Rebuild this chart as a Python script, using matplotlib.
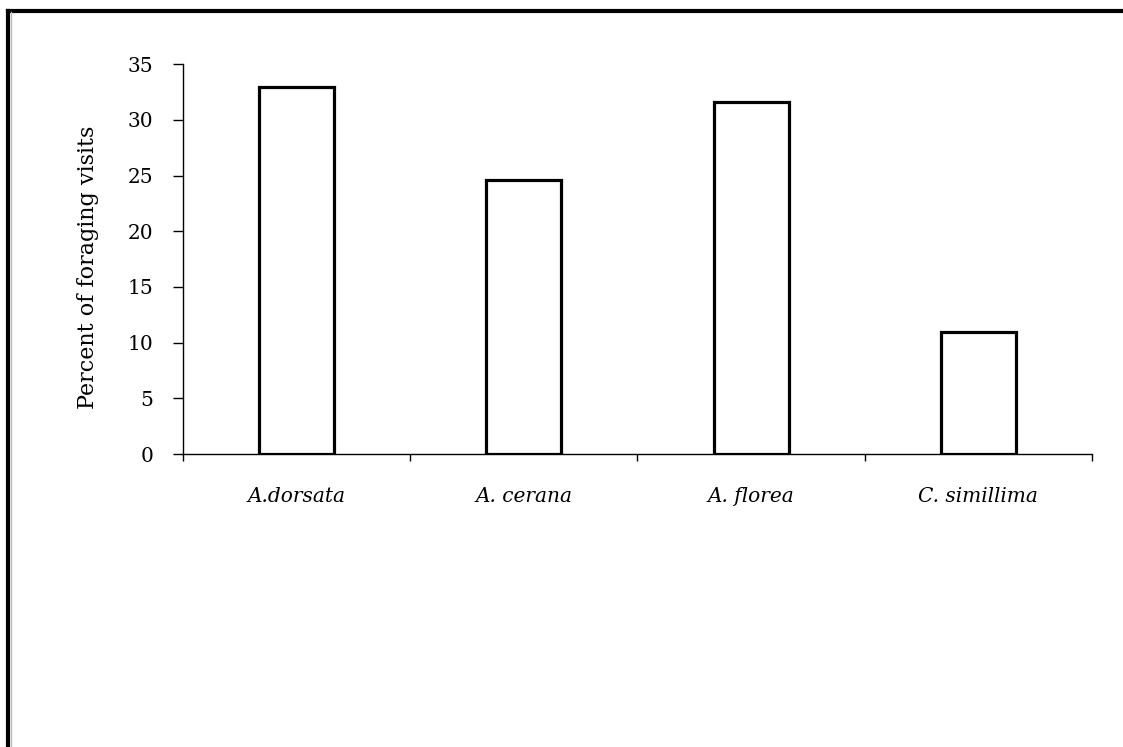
import matplotlib
matplotlib.use("Agg")
import matplotlib.pyplot as plt
from matplotlib.lines import Line2D
import numpy as np

categories = ["A.dorsata", "A. cerana", "A. florea", "C. simillima"]
values = [33.0, 24.6, 31.6, 11.0]
y_ticks = [0, 5, 10, 15, 20, 25, 30, 35]
y_label = "Percent of foraging visits"

plt.rcParams['font.family'] = ['DejaVu Serif']

fig = plt.figure(figsize=(11.23, 7.47), dpi=100)
ax = fig.add_axes([182.7 / 1123, (747 - 454) / 747, (1092 - 182.7) / 1123, (454 - 64.3) / 747])

x = np.arange(len(categories))
ax.bar(x, values, width=0.33, facecolor='white', edgecolor='black', linewidth=2.3, zorder=3)

ax.set_xlim(-0.5, len(categories) - 0.5)
ax.set_ylim(0, 35)
ax.set_yticks(y_ticks)
ax.set_yticklabels([str(t) for t in y_ticks], fontsize=14.5)
ax.tick_params(axis='y', direction='out', length=7, width=1, pad=14)

ax.set_xticks(np.arange(-0.5, len(categories)))
ax.set_xticklabels([])
ax.tick_params(axis='x', which='major', direction='out', length=5, width=1)
ax.set_xticks(x, minor=True)
ax.set_xticklabels(categories, minor=True, fontsize=14.5, style='italic')
ax.tick_params(axis='x', which='minor', length=0, pad=24)

for s in ['top', 'right']:
    ax.spines[s].set_visible(False)
for s in ['left', 'bottom']:
    ax.spines[s].set_linewidth(1)

fig.text(88 / 1123, (747 - 267) / 747, y_label, rotation=90, fontsize=16,
         ha='center', va='center')

# page border (top and left only, as cropped)
fig.add_artist(Line2D([7.5 / 1123, 1.0], [1 - 10.5 / 747, 1 - 10.5 / 747],
                      transform=fig.transFigure, color='black', linewidth=3))
fig.add_artist(Line2D([7.5 / 1123, 7.5 / 1123], [0, 1 - 10.5 / 747],
                      transform=fig.transFigure, color='black', linewidth=3))
fig.add_artist(Line2D([10.5 / 1123, 10.5 / 1123], [0, 1 - 12 / 747],
                      transform=fig.transFigure, color='#bbbbbb', linewidth=1))

fig.savefig("out.png", dpi=100)
